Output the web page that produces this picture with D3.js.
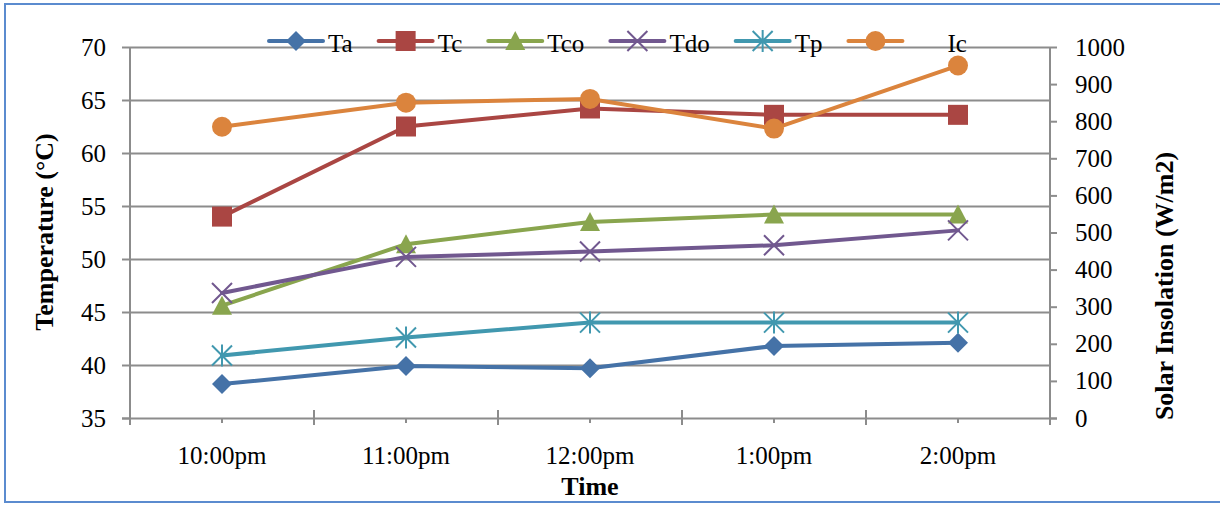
<!DOCTYPE html>
<html>
<head>
<meta charset="utf-8">
<script src="https://cdn.jsdelivr.net/npm/d3@7"></script>
<style>
  html, body { margin: 0; padding: 0; background: #fff; }
  svg { display: block; font-family: "Liberation Serif", "Times New Roman", serif; }
</style>
</head>
<body>
<svg id="chart" width="1220" height="505"></svg>
<script>
// Hourly readings
const times = ["10:00pm", "11:00pm", "12:00pm", "1:00pm", "2:00pm"];

// Temperatures (°C), left axis
const Ta  = [38.2, 39.9, 39.7, 41.8, 42.1];
const Tc  = [54.0, 62.5, 64.2, 63.6, 63.6];
const Tco = [45.6, 51.4, 53.5, 54.2, 54.2];
const Tdo = [46.8, 50.2, 50.7, 51.3, 52.7];
const Tp  = [40.9, 42.6, 44.0, 44.0, 44.0];

// Solar insolation (W/m2), right axis
const Ic  = [785, 850, 860, 780, 950];

const tempTicks = [35, 40, 45, 50, 55, 60, 65, 70];
const insolTicks = [0, 100, 200, 300, 400, 500, 600, 700, 800, 900, 1000];

const series = [
  { name: "Ta",  values: Ta,  color: "#4572A7", marker: "diamond",  axis: "left"  },
  { name: "Tc",  values: Tc,  color: "#AA4643", marker: "square",   axis: "left"  },
  { name: "Tco", values: Tco, color: "#89A54E", marker: "triangle", axis: "left"  },
  { name: "Tdo", values: Tdo, color: "#71588F", marker: "x",        axis: "left"  },
  { name: "Tp",  values: Tp,  color: "#4198AF", marker: "star",     axis: "left"  },
  { name: "Ic",  values: Ic,  color: "#DB843D", marker: "circle",   axis: "right" }
];

const serif = "Liberation Serif, Times New Roman, serif";
const svg = d3.select("#chart");

// Outer frame
svg.append("rect")
  .attr("x", 5).attr("y", 4).attr("width", 1230).attr("height", 498)
  .attr("fill", "none").attr("stroke", "#5B8BCF").attr("stroke-width", 2);

const plot = { left: 130, right: 1050, top: 47, bottom: 418 };

const x = d3.scaleBand().domain(times).range([plot.left, plot.right]).padding(0);
const yL = d3.scaleLinear().domain([35, 70]).range([plot.bottom, plot.top]);
const yR = d3.scaleLinear().domain([0, 1000]).range([plot.bottom, plot.top]);

const axisColor = "#8C8C8C";
const fontSize = 25;

// Horizontal gridlines
svg.append("g").selectAll("line")
  .data(tempTicks.slice(1))
  .join("line")
  .attr("x1", plot.left).attr("x2", plot.right)
  .attr("y1", d => yL(d) + 0.5).attr("y2", d => yL(d) + 0.5)
  .attr("stroke", axisColor).attr("stroke-width", 2);

// Left axis
const gL = svg.append("g").attr("transform", `translate(${plot.left},0)`)
  .call(d3.axisLeft(yL).tickValues(tempTicks).tickSize(8).tickPadding(16).tickFormat(d3.format("d")));
// Right axis
const gR = svg.append("g").attr("transform", `translate(${plot.right},0)`)
  .call(d3.axisRight(yR).tickValues(insolTicks).tickSize(7).tickPadding(18).tickFormat(d3.format("d")));
// Bottom axis: category labels
const gB = svg.append("g").attr("transform", `translate(0,${plot.bottom})`)
  .call(d3.axisBottom(x).tickSize(5).tickPadding(36));

[gL, gR, gB].forEach(g => {
  g.select(".domain").remove();
  g.attr("font-family", serif);
  g.selectAll(".tick line").attr("stroke", axisColor).attr("stroke-width", 2);
  g.selectAll(".tick text").attr("fill", "#000").attr("font-size", fontSize)
    .attr("font-family", serif);
});
gB.selectAll(".tick text").attr("dy", "0.2em");

// Axis lines
svg.append("line").attr("x1", plot.left).attr("x2", plot.left)
  .attr("y1", plot.top).attr("y2", plot.bottom + 7)
  .attr("stroke", axisColor).attr("stroke-width", 2);
svg.append("line").attr("x1", plot.right).attr("x2", plot.right)
  .attr("y1", plot.top).attr("y2", plot.bottom + 7)
  .attr("stroke", axisColor).attr("stroke-width", 2);
svg.append("line").attr("x1", plot.left - 8).attr("x2", plot.right + 7)
  .attr("y1", plot.bottom + 0.5).attr("y2", plot.bottom + 0.5)
  .attr("stroke", axisColor).attr("stroke-width", 2);

// Category boundary ticks crossing the x axis
const bounds = times.map(t => x(t)).concat([plot.right]);
svg.append("g").selectAll("line").data(bounds.slice(1, -1)).join("line")
  .attr("x1", d => d).attr("x2", d => d)
  .attr("y1", plot.bottom - 8).attr("y2", plot.bottom + 7)
  .attr("stroke", axisColor).attr("stroke-width", 2);
// Centre ticks sit at the band centres
gB.selectAll(".tick").attr("transform", d => `translate(${x(d) + x.bandwidth() / 2},0)`);

// Axis titles
svg.append("text")
  .attr("transform", `translate(53,232) rotate(-90)`)
  .attr("text-anchor", "middle").attr("font-weight", "bold").attr("font-size", 26)
  .attr("font-family", serif)
  .text("Temperature (°C)");
svg.append("text")
  .attr("transform", `translate(1173,286) rotate(-90)`)
  .attr("text-anchor", "middle").attr("font-weight", "bold").attr("font-size", 26)
  .attr("font-family", serif)
  .text("Solar Insolation (W/m2)");
svg.append("text")
  .attr("x", (plot.left + plot.right) / 2).attr("y", 495)
  .attr("text-anchor", "middle").attr("font-weight", "bold").attr("font-size", 26)
  .attr("font-family", serif)
  .text("Time");

// Marker shapes
function drawMarker(g, type, color, cx, cy) {
  const s = 10;
  if (type === "diamond") {
    g.append("path").attr("d", `M${cx},${cy - s}L${cx + s},${cy}L${cx},${cy + s}L${cx - s},${cy}Z`)
      .attr("fill", color);
  } else if (type === "square") {
    g.append("rect").attr("x", cx - 10).attr("y", cy - 10).attr("width", 20).attr("height", 20)
      .attr("fill", color);
  } else if (type === "triangle") {
    g.append("path").attr("d", `M${cx},${cy - 10}L${cx + 10},${cy + 9}L${cx - 10},${cy + 9}Z`)
      .attr("fill", color);
  } else if (type === "x") {
    g.append("path").attr("d", `M${cx - 10},${cy - 10}L${cx + 10},${cy + 10}M${cx + 10},${cy - 10}L${cx - 10},${cy + 10}`)
      .attr("stroke", color).attr("stroke-width", 2).attr("fill", "none");
  } else if (type === "star") {
    g.append("path").attr("d", `M${cx - 10},${cy - 10}L${cx + 10},${cy + 10}M${cx + 10},${cy - 10}L${cx - 10},${cy + 10}M${cx},${cy - 11}L${cx},${cy + 11}`)
      .attr("stroke", color).attr("stroke-width", 2).attr("fill", "none");
  } else if (type === "circle") {
    g.append("circle").attr("cx", cx).attr("cy", cy).attr("r", 10).attr("fill", color);
  }
}

// Series lines and markers
const cxOf = t => x(t) + x.bandwidth() / 2;
series.forEach(s => {
  const y = s.axis === "left" ? yL : yR;
  const g = svg.append("g");
  const line = d3.line().x((d, i) => cxOf(times[i])).y(d => y(d));
  g.append("path").datum(s.values).attr("d", line)
    .attr("fill", "none").attr("stroke", s.color).attr("stroke-width", 4)
    .attr("stroke-linejoin", "round").attr("stroke-linecap", "round");
  s.values.forEach((v, i) => drawMarker(g, s.marker, s.color, cxOf(times[i]), y(v)));
});

// Legend
const legend = svg.append("g");
let lx = 269;
const ly = 41;
series.forEach((s, i) => {
  const g = legend.append("g");
  g.append("line").attr("x1", lx).attr("x2", lx + 54).attr("y1", ly).attr("y2", ly)
    .attr("stroke", s.color).attr("stroke-width", 4).attr("stroke-linecap", "round");
  drawMarker(g, s.marker, s.color, lx + 27, ly);
  const textX = lx + 59 + (i === series.length - 1 ? 40 : 0);
  const t = g.append("text").attr("x", textX).attr("y", ly + 11)
    .attr("font-size", fontSize).attr("font-family", serif).attr("fill", "#000").text(s.name);
  lx = textX + t.node().getComputedTextLength() + 26;
});
</script>
</body>
</html>
